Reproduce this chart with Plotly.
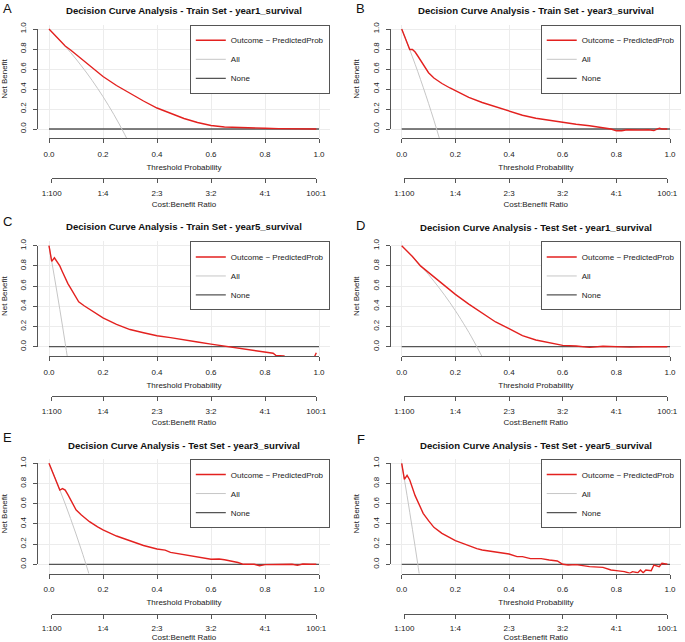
import plotly.graph_objects as go

W, H = 685, 642
FONT = "Liberation Sans, Arial, Helvetica, sans-serif"
RED = "#e3211f"
ALL_C = "#c6c6c6"
NONE_C = "#555555"
AXIS_C = "#555555"
GRID_C = "#ececec"
TXT_C = "#222222"

# ---------------- data ----------------
letters = ["A", "B", "C", "D", "E", "F"]
titles = [
    "Decision Curve Analysis - Train Set - year1_survival",
    "Decision Curve Analysis - Train Set - year3_survival",
    "Decision Curve Analysis - Train Set - year5_survival",
    "Decision Curve Analysis - Test Set - year1_survival",
    "Decision Curve Analysis - Test Set - year3_survival",
    "Decision Curve Analysis - Test Set - year5_survival",
]
series_names = ["Outcome ~ PredictedProb", "All", "None"]

x_ticks = [0.0, 0.2, 0.4, 0.6, 0.8, 1.0]
x_ticklabels = ["0.0", "0.2", "0.4", "0.6", "0.8", "1.0"]
y_ticks = [0.0, 0.2, 0.4, 0.6, 0.8, 1.0]
y_ticklabels = ["0.0", "0.2", "0.4", "0.6", "0.8", "1.0"]
cb_ticks = [0.01, 0.2, 0.4, 0.6, 0.8, 0.99]
cb_ticklabels = ["1:100", "1:4", "2:3", "3:2", "4:1", "100:1"]

none_t = [0.0, 1.0]
none_nb = [0.0, 0.0]

# A: Train year1
a_model_t = [0, 0.02, 0.04, 0.06, 0.08, 0.10, 0.12, 0.15, 0.20, 0.25, 0.30, 0.35, 0.40, 0.45,
             0.50, 0.55, 0.60, 0.65, 0.70, 0.75, 0.80, 0.85, 0.90, 0.95, 0.99]
a_model_nb = [1.0, 0.945, 0.887, 0.83, 0.79, 0.745, 0.70, 0.635, 0.525, 0.435, 0.355, 0.28, 0.21, 0.155,
              0.105, 0.065, 0.035, 0.02, 0.014, 0.012, 0.008, 0.004, 0.002, 0.001, 0.0]
a_all_t = [0, 0.02, 0.04, 0.06, 0.08, 0.10, 0.12, 0.14, 0.16, 0.18, 0.20, 0.22, 0.24, 0.26, 0.28, 0.30]
a_all_nb = [1.0, 0.945, 0.887, 0.827, 0.765, 0.700, 0.631, 0.560, 0.485, 0.406, 0.324, 0.237, 0.146,
            0.050, -0.052, -0.159]

# B: Train year3
b_model_t = [0, 0.01, 0.02, 0.03, 0.04, 0.05, 0.06, 0.08, 0.10, 0.12, 0.15, 0.18, 0.20, 0.25, 0.30,
             0.35, 0.40, 0.45, 0.50, 0.55, 0.60, 0.65, 0.70, 0.75, 0.78, 0.80, 0.82, 0.84, 0.86,
             0.88, 0.90, 0.92, 0.94, 0.96, 0.97, 0.99]
b_model_nb = [1.0, 0.932, 0.863, 0.795, 0.795, 0.77, 0.73, 0.64, 0.563, 0.51, 0.455, 0.41, 0.383, 0.317,
              0.265, 0.222, 0.175, 0.138, 0.107, 0.087, 0.062, 0.048, 0.033, 0.013, 0.0, -0.018,
              -0.018, -0.008, -0.006, -0.01, -0.01, -0.008, -0.016, 0.008, 0.0, 0.0]
b_all_t = [0, 0.01, 0.02, 0.03, 0.04, 0.05, 0.06, 0.07, 0.08, 0.09, 0.10, 0.11, 0.12, 0.13, 0.14, 0.15]
b_all_nb = [1.0, 0.932, 0.863, 0.793, 0.721, 0.648, 0.573, 0.496, 0.418, 0.338, 0.257, 0.173, 0.088,
            0.0, -0.089, -0.181]

# C: Train year5
c_model_t = [0, 0.01, 0.02, 0.03, 0.04, 0.05, 0.06, 0.07, 0.08, 0.09, 0.10, 0.11, 0.13, 0.15, 0.18,
             0.20, 0.25, 0.27, 0.30, 0.35, 0.40, 0.45, 0.50, 0.55, 0.60, 0.65, 0.70, 0.75, 0.80,
             0.83, 0.84, 0.86, 0.87, 0.88, 0.90, 0.93, 0.96, 0.98, 0.99]
c_model_nb = [1.0, 0.845, 0.88, 0.845, 0.80, 0.74, 0.68, 0.625, 0.58, 0.535, 0.49, 0.445, 0.405, 0.37,
              0.315, 0.285, 0.222, 0.198, 0.17, 0.138, 0.108, 0.09, 0.066, 0.047, 0.026, 0.006,
              -0.01, -0.033, -0.048, -0.065, -0.086, -0.09, -0.092, -0.11, -0.13, -0.15, -0.14,
              -0.12, -0.06]
c_all_t = [0, 0.01, 0.02, 0.03, 0.04, 0.05, 0.06, 0.07]
c_all_nb = [1.0, 0.847, 0.691, 0.532, 0.370, 0.204, 0.035, -0.139]

# D: Test year1
d_model_t = [0, 0.04, 0.07, 0.10, 0.15, 0.20, 0.25, 0.30, 0.35, 0.40, 0.45, 0.50, 0.55, 0.60, 0.65,
             0.70, 0.75, 0.80, 0.85, 0.90, 0.95, 0.99]
d_model_nb = [1.0, 0.893, 0.80, 0.733, 0.627, 0.518, 0.422, 0.33, 0.245, 0.18, 0.11, 0.066, 0.04,
              0.013, 0.007, -0.007, 0.005, 0.0, -0.004, 0.0, -0.002, 0.0]
d_all_t = [0, 0.04, 0.08, 0.12, 0.16, 0.20, 0.24, 0.26, 0.28, 0.30]
d_all_nb = [1.0, 0.893, 0.776, 0.649, 0.510, 0.357, 0.188, 0.097, 0.0, -0.102]

# E: Test year3
e_model_t = [0, 0.02, 0.04, 0.05, 0.06, 0.07, 0.08, 0.10, 0.12, 0.15, 0.18, 0.20, 0.25, 0.30, 0.35,
             0.40, 0.43, 0.45, 0.50, 0.55, 0.60, 0.63, 0.65, 0.70, 0.72, 0.76, 0.78, 0.80, 0.83,
             0.85, 0.88, 0.90, 0.92, 0.94, 0.97, 0.99]
e_model_nb = [1.0, 0.871, 0.735, 0.75, 0.735, 0.69, 0.635, 0.54, 0.488, 0.422, 0.37, 0.34, 0.28, 0.231,
              0.186, 0.152, 0.14, 0.118, 0.095, 0.066, 0.05, 0.052, 0.045, 0.018, 0.0, 0.0, -0.014,
              -0.003, 0.0, -0.003, 0.001, 0.0, -0.01, 0.003, 0.001, 0.0]
e_all_t = [0, 0.02, 0.04, 0.06, 0.08, 0.10, 0.12, 0.14, 0.15]
e_all_nb = [1.0, 0.871, 0.737, 0.598, 0.452, 0.300, 0.141, -0.026, -0.112]

# F: Test year5
f_model_t = [0, 0.01, 0.02, 0.03, 0.05, 0.08, 0.10, 0.12, 0.15, 0.20, 0.22, 0.25, 0.28, 0.30, 0.35,
             0.40, 0.43, 0.45, 0.48, 0.52, 0.55, 0.58, 0.60, 0.62, 0.65, 0.70, 0.75, 0.78, 0.80,
             0.83, 0.85, 0.86, 0.88, 0.89, 0.90, 0.91, 0.93, 0.94, 0.96, 0.97, 0.99]
f_model_nb = [1.0, 0.84, 0.88, 0.835, 0.68, 0.505, 0.432, 0.366, 0.307, 0.234, 0.215, 0.182, 0.155,
              0.142, 0.125, 0.102, 0.076, 0.076, 0.056, 0.056, 0.043, 0.033, 0.0, -0.007, -0.003,
              -0.023, -0.03, -0.056, -0.063, -0.073, -0.089, -0.073, -0.083, -0.056, -0.083, -0.056,
              -0.063, -0.007, -0.023, 0.01, 0.0]
f_all_t = [0, 0.01, 0.02, 0.03, 0.04, 0.05, 0.06, 0.07]
f_all_nb = [1.0, 0.842, 0.680, 0.515, 0.347, 0.175, 0.0, -0.18]

model_t = [a_model_t, b_model_t, c_model_t, d_model_t, e_model_t, f_model_t]
model_nb = [a_model_nb, b_model_nb, c_model_nb, d_model_nb, e_model_nb, f_model_nb]
all_t = [a_all_t, b_all_t, c_all_t, d_all_t, e_all_t, f_all_t]
all_nb = [a_all_nb, b_all_nb, c_all_nb, d_all_nb, e_all_nb, f_all_nb]

# ---------------- layout geometry (pixels) ----------------
# (pixel of t=0, pixel of t=1, pixel of NB=0, pixel of NB=1)
frames = [
    (49.0, 319.0, 129.0, 29.0),
    (401.7, 670.0, 129.0, 29.0),
    (49.0, 319.0, 346.7, 245.7),
    (401.7, 670.0, 346.7, 245.7),
    (49.0, 319.0, 564.3, 463.3),
    (401.7, 670.0, 564.3, 463.3),
]
letter_pos = [(8, 8), (361, 8), (8, 222), (361, 226), (8, 437), (361, 439)]
title_y = [10, 10, 226.7, 227.3, 445, 445]


def px(v):
    return v / W


def py(v):
    return 1 - v / H


def xn(i):
    return "x" if i == 1 else f"x{i}"


def yn(i):
    return "y" if i == 1 else f"y{i}"


def xk(i):
    return "xaxis" if i == 1 else f"xaxis{i}"


def yk(i):
    return "yaxis" if i == 1 else f"yaxis{i}"


fig = go.Figure()
layout = {}
annotations = []

tickfont = dict(size=8, color=TXT_C, family=FONT)
titlefont = dict(size=8, color=TXT_C, family=FONT)
common = dict(automargin=False, fixedrange=True, zeroline=False)
shown = dict(showline=True, linecolor=AXIS_C, linewidth=1, ticks="outside", ticklen=4,
             tickwidth=1, tickcolor=AXIS_C, tickfont=tickfont, showgrid=False, **common)
hidden = dict(visible=False, range=[0, 1], showgrid=False, **common)


def empty(xa, ya):
    return go.Scatter(x=[None], y=[None], xaxis=xa, yaxis=ya, mode="lines",
                      showlegend=False, hoverinfo="skip")


for k in range(6):
    x0p, x1p, y0p, y1p = frames[k]
    ux = x1p - x0p
    uy = y0p - y1p
    xl, xr = x0p - 0.04 * ux, x1p + 0.04 * ux
    yt, yb = y1p - 0.042 * uy, y0p + 0.092 * uy

    ixg, ixd, ixc, ixh = 4 * k + 1, 4 * k + 2, 4 * k + 3, 4 * k + 4
    iyg, iyd, iyh1, iyh2 = 4 * k + 1, 4 * k + 2, 4 * k + 3, 4 * k + 4
    leg = "legend" if k == 0 else f"legend{k + 1}"

    # plotting axes (grid only)
    layout[xk(ixg)] = dict(domain=[px(xl), px(xr)], range=[-0.04, 1.04], anchor=yn(iyg),
                           showgrid=True, gridcolor=GRID_C, gridwidth=1, tickvals=x_ticks,
                           showticklabels=False, ticks="", showline=False, **common)
    layout[yk(iyg)] = dict(domain=[py(yb), py(yt)], range=[-0.092, 1.042], anchor=xn(ixg),
                           showgrid=True, gridcolor=GRID_C, gridwidth=1, tickvals=y_ticks,
                           showticklabels=False, ticks="", showline=False, **common)

    # hidden anchor axes that set where the visible axis lines sit
    layout[xk(ixh)] = dict(domain=[px(xl), px(xl) + 0.01], anchor=yn(iyd), **hidden)
    layout[yk(iyh1)] = dict(domain=[py(yb), py(yb) + 0.01], anchor=xn(ixd), **hidden)
    layout[yk(iyh2)] = dict(domain=[py(yb + 40), py(yb + 40) + 0.01], anchor=xn(ixc), **hidden)

    # visible axes (R style: line spans only the tick range)
    layout[xk(ixd)] = dict(domain=[px(x0p), px(x1p)], range=[0, 1], anchor=yn(iyh1), side="bottom",
                           tickvals=x_ticks, ticktext=x_ticklabels, ticklabelstandoff=4,
                           title=dict(text="Threshold Probability", standoff=6, font=titlefont),
                           **shown)
    layout[xk(ixc)] = dict(domain=[px(x0p + 0.01 * ux), px(x0p + 0.99 * ux)], range=[0.01, 0.99],
                           anchor=yn(iyh2), side="bottom", tickvals=cb_ticks,
                           ticktext=cb_ticklabels, ticklabelstandoff=3,
                           title=dict(text="Cost:Benefit Ratio", standoff=4, font=titlefont),
                           **shown)
    layout[yk(iyd)] = dict(domain=[py(y0p), py(y1p)], range=[0, 1], anchor=xn(ixh), side="left",
                           tickvals=y_ticks, ticktext=y_ticklabels, tickangle=-90,
                           ticklabelstandoff=4,
                           title=dict(text="Net Benefit", standoff=10, font=titlefont),
                           **shown)

    # placeholders so the axis-only subplots get drawn
    fig.add_trace(empty(xn(ixd), yn(iyh1)))
    fig.add_trace(empty(xn(ixc), yn(iyh2)))
    fig.add_trace(empty(xn(ixh), yn(iyd)))

    # data traces
    fig.add_trace(go.Scatter(x=none_t, y=none_nb, xaxis=xn(ixg), yaxis=yn(iyg), mode="lines",
                             name=series_names[2], line=dict(color=NONE_C, width=1.3),
                             legend=leg, legendrank=3))
    fig.add_trace(go.Scatter(x=all_t[k], y=all_nb[k], xaxis=xn(ixg), yaxis=yn(iyg), mode="lines",
                             name=series_names[1], line=dict(color=ALL_C, width=1, shape="spline"),
                             legend=leg, legendrank=2))
    fig.add_trace(go.Scatter(x=model_t[k], y=model_nb[k], xaxis=xn(ixg), yaxis=yn(iyg),
                             mode="lines", name=series_names[0],
                             line=dict(color=RED, width=1.4), legend=leg, legendrank=1))

    layout[leg] = dict(x=px(xr), xanchor="right", y=py(yt), yanchor="top", bgcolor="white",
                       bordercolor="#555555", borderwidth=1, tracegroupgap=0, itemwidth=30,
                       font=dict(size=8, color=TXT_C, family=FONT))

    annotations.append(dict(text=f"<b>{titles[k]}</b>", x=px((x0p + x1p) / 2), y=py(title_y[k]),
                            xref="paper", yref="paper", xanchor="center", yanchor="middle",
                            showarrow=False, font=dict(size=9.6, color="#111111", family=FONT)))
    annotations.append(dict(text=letters[k], x=px(letter_pos[k][0]), y=py(letter_pos[k][1]),
                            xref="paper", yref="paper", xanchor="center", yanchor="middle",
                            showarrow=False, font=dict(size=13, color="#111111", family=FONT)))

fig.update_layout(**layout)
fig.update_layout(width=W, height=H, autosize=False, margin=dict(l=0, r=0, t=0, b=0, pad=0),
                  paper_bgcolor="white", plot_bgcolor="rgba(0,0,0,0)",
                  font=dict(family=FONT, color=TXT_C), annotations=annotations,
                  hovermode=False)

fig.write_html("out.html", config={"displayModeBar": False},
               post_script="document.body.style.margin='0px';"
                           "document.body.style.overflow='hidden';")
